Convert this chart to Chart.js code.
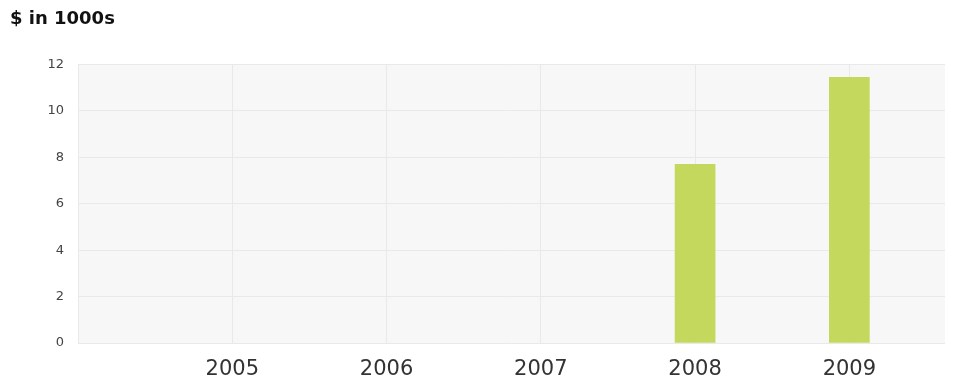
<!DOCTYPE html>
<html>
<head>
<meta charset="utf-8">
<script src="https://cdn.jsdelivr.net/npm/chart.js@4/dist/chart.umd.min.js"></script>
<style>
  html, body { margin: 0; padding: 0; background: #fff; }
  #wrap { width: 961px; height: 388px; }
</style>
</head>
<body>
<div id="wrap"><canvas id="revChart" width="961" height="388"></canvas></div>
<script>
const years = [2005, 2006, 2007, 2008, 2009];
const amounts = [null, null, null, 7.7, 11.45];
const yTicks = [0, 2, 4, 6, 8, 10, 12];

const plotBg = {
  id: 'plotBg',
  beforeDraw(chart) {
    const { ctx, chartArea: a } = chart;
    ctx.save();
    ctx.fillStyle = '#f7f7f7';
    ctx.fillRect(a.left, a.top, a.right - a.left, a.bottom - a.top);
    ctx.restore();
  }
};

const ctx = document.getElementById('revChart').getContext('2d');

new Chart(ctx, {
  type: 'bar',
  data: {
    datasets: [{
      data: years.map((y, i) => ({ x: y, y: amounts[i] })),
      backgroundColor: '#c3d85c',
      borderWidth: 0,
      barThickness: 40,
    }]
  },
  options: {
    responsive: false,
    animation: false,
    layout: { padding: { left: 10, right: 16, top: 0, bottom: 0 } },
    scales: {
      x: {
        type: 'linear',
        min: 2004,
        max: 2009.62,
        offset: false,
        afterBuildTicks: s => { s.ticks = [2004, ...years].map(v => ({ value: v })); },
        ticks: {
          callback: v => years.includes(v) ? String(v) : '',
          color: '#333',
          font: { family: 'DejaVu Sans', size: 21 },
          padding: 14,
          maxRotation: 0,
        },
        grid: { color: '#e9e9e9', drawTicks: false, offset: false },
        border: { display: false },
        afterFit: s => { s.height = 45; }
      },
      y: {
        min: 0,
        max: 12,
        afterBuildTicks: s => { s.ticks = yTicks.map(v => ({ value: v })); },
        ticks: {
          color: '#444',
          font: { family: 'DejaVu Sans', size: 13 },
          padding: 14,
        },
        grid: { color: '#e9e9e9', drawTicks: false },
        border: { display: false },
        afterFit: s => { s.width = 68; }
      }
    },
    plugins: {
      legend: { display: false },
      tooltip: { enabled: false },
      title: {
        display: true,
        text: '$ in 1000s',
        align: 'start',
        color: '#111',
        font: { family: 'DejaVu Sans', size: 18, weight: 'bold' },
        padding: { top: 9, bottom: 34 }
      }
    }
  },
  plugins: [plotBg]
});
</script>
</body>
</html>
